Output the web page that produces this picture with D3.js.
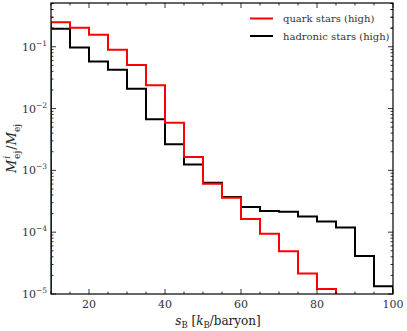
<!DOCTYPE html>
<html>
<head>
<meta charset="utf-8">
<script src="https://cdn.jsdelivr.net/npm/d3@7"></script>
<style>
  html, body { margin: 0; padding: 0; background: #fff; }
  svg text { font-family: "DejaVu Serif", "Liberation Serif", "Times New Roman", serif; }
</style>
</head>
<body>
<div id="chart"></div>
<script>
// bin edges in s_B [k_B/baryon]
const binEdges = [10, 15, 20, 25, 30, 35, 40, 45, 50, 55, 60, 65, 70, 75, 80, 85, 90, 95, 100];
// fraction of ejecta mass per bin (null = empty bin)
const quarkHigh = [0.248, 0.203, 0.156, 0.089, 0.0505, 0.0239, 0.0059, 0.00164, 6.1e-4, 3.6e-4,
  1.63e-4, 9.4e-5, 4.9e-5, 2.14e-5, 1.2e-5, null, null, null];
const hadronicHigh = [0.196, 0.0975, 0.0578, 0.0424, 0.0209, 0.0067, 0.00264, 0.00125, 6.3e-4, 3.7e-4,
  2.55e-4, 2.2e-4, 2.15e-4, 1.8e-4, 1.49e-4, 1.19e-4, 4.1e-5, 1.33e-5];
const seriesNames = ["quark stars (high)", "hadronic stars (high)"];
const seriesColors = ["#ff0000", "#000000"];
const xTicks = [20, 40, 60, 80, 100];
const yTicks = [1e-5, 1e-4, 1e-3, 1e-2, 1e-1];

const width = 407, height = 331;
const margin = { top: 3, right: 14, bottom: 37, left: 51 };

const svg = d3.select("#chart").append("svg")
  .attr("width", width)
  .attr("height", height);

const x = d3.scaleLinear().domain([10, 100]).range([margin.left, width - margin.right]);
const y = d3.scaleLog().domain([1e-5, 0.51]).range([height - margin.bottom, margin.top]);

svg.append("defs").append("clipPath").attr("id", "clip")
  .append("rect")
  .attr("x", margin.left).attr("y", margin.top)
  .attr("width", x.range()[1] - x.range()[0])
  .attr("height", y.range()[0] - y.range()[1]);

// step histogram path, like histtype='step'
function stepLine(vals) {
  const bottom = y.range()[0] + 5;
  const pts = [[x(binEdges[0]), bottom]];
  vals.forEach((v, i) => {
    const yy = v == null ? bottom : y(v);
    pts.push([x(binEdges[i]), yy]);
    pts.push([x(binEdges[i + 1]), yy]);
  });
  pts.push([x(binEdges[binEdges.length - 1]), bottom]);
  return d3.line()(pts);
}

const gLines = svg.append("g").attr("clip-path", "url(#clip)");
[hadronicHigh, quarkHigh].forEach((vals, k) => {
  gLines.append("path")
    .attr("d", stepLine(vals))
    .attr("fill", "none")
    .attr("stroke", k === 0 ? seriesColors[1] : seriesColors[0])
    .attr("stroke-width", 2)
    .attr("stroke-linejoin", "miter");
});

// minor ticks
const xMinor = d3.range(10, 101, 5);
const yMinor = [];
for (let e = -5; e < 0; e++) {
  for (let m = 1; m < 10; m++) {
    const v = m * Math.pow(10, e);
    if (v <= 0.51) yMinor.push(v);
  }
}
yMinor.push(0.2, 0.3, 0.4, 0.5);

const gAxes = svg.append("g").attr("stroke", "#000").attr("stroke-width", 0.8);
const x0 = x.range()[0], x1 = x.range()[1], y0 = y.range()[0], y1 = y.range()[1];

xMinor.forEach(v => {
  const len = xTicks.includes(v) ? 5 : 2.5;
  gAxes.append("line").attr("x1", x(v)).attr("x2", x(v)).attr("y1", y0).attr("y2", y0 - len);
  gAxes.append("line").attr("x1", x(v)).attr("x2", x(v)).attr("y1", y1).attr("y2", y1 + len);
});
yMinor.forEach(v => {
  const len = yTicks.includes(v) ? 5 : 2.5;
  gAxes.append("line").attr("x1", x0).attr("x2", x0 + len).attr("y1", y(v)).attr("y2", y(v));
  gAxes.append("line").attr("x1", x1).attr("x2", x1 - len).attr("y1", y(v)).attr("y2", y(v));
});

svg.append("rect")
  .attr("x", x0).attr("y", y1)
  .attr("width", x1 - x0).attr("height", y0 - y1)
  .attr("fill", "none").attr("stroke", "#000").attr("stroke-width", 1.2);

// tick labels
svg.append("g").selectAll("text")
  .data(xTicks)
  .join("text")
  .attr("x", d => x(d))
  .attr("y", y0 + 14)
  .attr("text-anchor", "middle")
  .attr("font-size", 11)
  .attr("fill", "#333")
  .text(d => d);

const yLab = svg.append("g").selectAll("text")
  .data(yTicks)
  .join("text")
  .attr("x", x0 - 4)
  .attr("y", d => y(d) + 4)
  .attr("text-anchor", "end")
  .attr("font-size", 11)
  .attr("fill", "#333");
yLab.append("tspan").text("10");
yLab.append("tspan")
  .attr("dy", -5)
  .attr("font-size", 7.5)
  .text(d => "\u2212" + Math.round(-Math.log10(d)));

// axis labels
const xl = svg.append("text")
  .attr("x", (x0 + x1) / 2 - 4)
  .attr("y", height - 6)
  .attr("text-anchor", "middle")
  .attr("font-size", 12)
  .attr("fill", "#222");
xl.append("tspan").attr("font-style", "italic").text("s");
xl.append("tspan").attr("font-size", 8.5).attr("dy", 2.5).text("B");
xl.append("tspan").attr("dy", -2.5).text(" [");
xl.append("tspan").attr("font-style", "italic").text("k");
xl.append("tspan").attr("font-size", 8.5).attr("dy", 2.5).text("B");
xl.append("tspan").attr("dy", -2.5).text("/baryon]");

const yl = svg.append("text")
  .attr("transform", `translate(16, ${(y0 + y1) / 2}) rotate(-90)`)
  .attr("text-anchor", "middle")
  .attr("font-size", 13)
  .attr("fill", "#222");
yl.append("tspan").attr("font-style", "italic").text("M");
yl.append("tspan").attr("font-size", 9).attr("font-style", "italic").attr("dy", -6).attr("dx", 1).text("i");
yl.append("tspan").attr("font-size", 9).attr("dy", 9.5).attr("dx", -3).text("ej");
yl.append("tspan").attr("dy", -3.5).attr("dx", 1).text("/");
yl.append("tspan").attr("font-style", "italic").text("M");
yl.append("tspan").attr("font-size", 9).attr("dy", 3.5).text("ej");

// legend
const legend = svg.append("g");
seriesNames.forEach((name, i) => {
  const ly = 18.5 + i * 17.5;
  legend.append("line")
    .attr("x1", 250).attr("x2", 273).attr("y1", ly).attr("y2", ly)
    .attr("stroke", seriesColors[i]).attr("stroke-width", 2);
  legend.append("text")
    .attr("x", 283).attr("y", ly + 3.5)
    .attr("font-size", 10)
    .attr("fill", "#333")
    .text(name);
});
</script>
</body>
</html>
